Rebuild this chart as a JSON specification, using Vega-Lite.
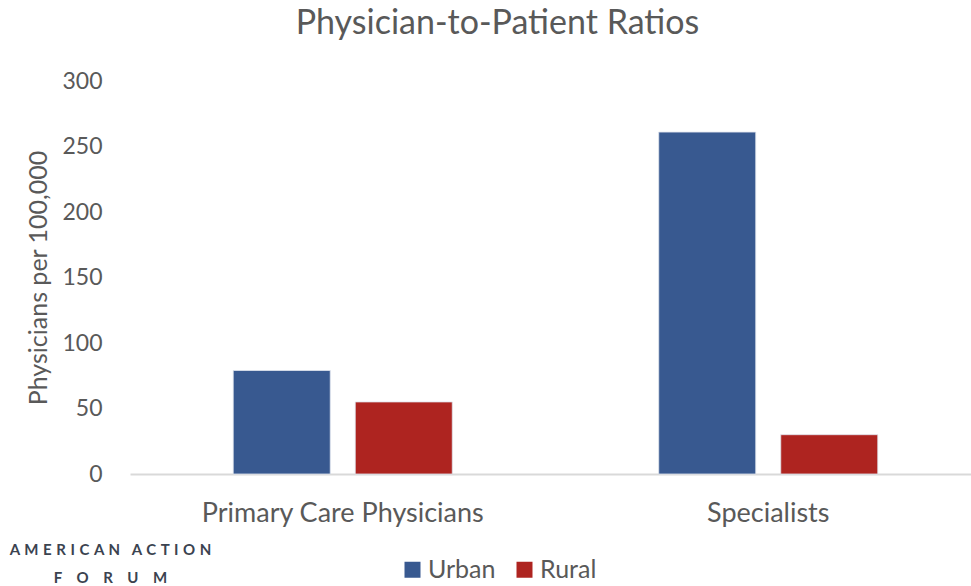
{
  "$schema": "https://vega.github.io/schema/vega-lite/v6.json",
  "width": 841,
  "height": 393,
  "autosize": {"type": "none"},
  "padding": {"left": 130, "top": 81, "right": 0, "bottom": 112},
  "background": "white",
  "config": {
    "view": {"stroke": null},
    "font": "Lato"
  },
  "title": {
    "text": "Physician-to-Patient Ratios",
    "fontSize": 34,
    "font": "Lato",
    "fontWeight": "normal",
    "color": "#595959",
    "anchor": "middle",
    "dx": -53,
    "offset": 29
  },
  "data": {
    "values": [
      {"category": "Primary Care Physicians", "area": "Urban", "value": 79},
      {"category": "Primary Care Physicians", "area": "Rural", "value": 55},
      {"category": "Specialists", "area": "Urban", "value": 261},
      {"category": "Specialists", "area": "Rural", "value": 30}
    ]
  },
  "mark": {"type": "bar", "stroke": "#dfe4ee", "strokeWidth": 0.8},
  "encoding": {
    "x": {
      "field": "category",
      "type": "nominal",
      "sort": ["Primary Care Physicians", "Specialists"],
      "scale": {"paddingInner": 0, "paddingOuter": 0, "range": [0, 851]},
      "axis": {
        "labelAngle": 0,
        "labelFontSize": 27,
        "labelLimit": 0,
        "labelColor": "#595959",
        "labelPadding": 26,
        "ticks": false,
        "domainColor": "#d9d9d9",
        "domainWidth": 2,
        "title": ["A\u00a0\u200aM\u00a0\u200aE\u00a0\u200aR\u00a0\u200aI\u00a0\u200aC\u00a0\u200aA\u00a0\u200aN\u00a0\u00a0\u00a0\u200aA\u00a0\u200aC\u00a0\u200aT\u00a0\u200aI\u00a0\u200aO\u00a0\u200aN", "F\u00a0\u00a0\u00a0\u00a0O\u00a0\u00a0\u00a0\u00a0R\u00a0\u00a0\u00a0\u00a0U\u00a0\u00a0\u00a0\u00a0M"],
        "titleFontSize": 15,
        "titleFontWeight": "bold",
        "titleColor": "#3b4350",
        "titleLineHeight": 28,
        "titleAlign": "center",
        "titleAnchor": null,
        "titleX": -20,
        "titleY": 68,
        "titleBaseline": "top"
      }
    },
    "xOffset": {
      "field": "area",
      "type": "nominal",
      "sort": ["Urban", "Rural"],
      "scale": {"paddingInner": 0.205, "paddingOuter": 0.846}
    },
    "y": {
      "field": "value",
      "type": "quantitative",
      "scale": {"domain": [0, 300]},
      "axis": {
        "values": [0, 50, 100, 150, 200, 250, 300],
        "grid": false,
        "domain": false,
        "ticks": false,
        "labelFontSize": 23,
        "labelColor": "#595959",
        "labelPadding": 28,
        "title": "Physicians per 100,000",
        "titleFontSize": 25,
        "titleFontWeight": "normal",
        "titleColor": "#595959",
        "titlePadding": 10
      }
    },
    "color": {
      "field": "area",
      "type": "nominal",
      "sort": ["Urban", "Rural"],
      "scale": {"domain": ["Urban", "Rural"], "range": ["#385990", "#ae2420"]},
      "legend": {
        "title": null,
        "orient": "none",
        "direction": "horizontal",
        "legendX": 270,
        "legendY": 476,
        "symbolType": "square",
        "symbolSize": 256,
        "symbolStrokeWidth": 0,
        "labelFontSize": 25,
        "labelColor": "#595959",
        "columnPadding": 16,
        "labelOffset": 3
      }
    }
  }
}
